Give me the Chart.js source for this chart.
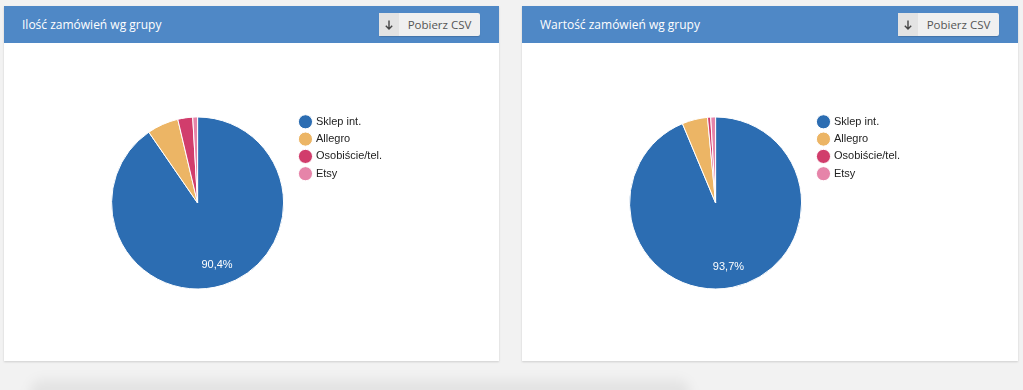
<!DOCTYPE html>
<html lang="pl">
<head>
  <meta charset="UTF-8" />
  <title>Zamówienia wg grupy</title>
  <script src="https://cdn.jsdelivr.net/npm/chart.js"></script>
  <style>
    html, body { margin: 0; padding: 0; }
    body {
      width: 1023px; height: 390px; overflow: hidden; position: relative;
      background: #f2f2f2; font-family: 'Open Sans', sans-serif;
    }
    .panel {
      position: absolute; top: 6px; height: 355px; background: #fff;
      box-shadow: 0 1px 2px rgba(0,0,0,0.15);
    }
    .panel-head {
      height: 37px; background: #4f88c6; color: #fff; position: relative;
    }
    .panel-head h3 {
      margin: 0; position: absolute; left: 18px; top: 10px;
      font-size: 12px; font-weight: 400; line-height: 18px;
    }
    .btn {
      position: absolute; right: 19px; top: 7px; height: 23px; width: 101px;
      background: #f0f0f0; border-radius: 2px; display: flex; font-size: 11.5px; color: #555;
      box-shadow: 0 1px 1px rgba(0,0,0,0.15);
    }
    .btn .ico { width: 20px; background: #e3e3e3; display: flex; align-items: center; justify-content: center; }
    .btn .txt { flex: 1; text-align: center; line-height: 23px; }
    .chart-box { position: absolute; top: 104px; width: 291px; height: 186px; }
    .shade {
      position: absolute; left: 30px; top: 380px; width: 660px; height: 30px;
      background: rgba(0,0,0,0.06); filter: blur(6px); border-radius: 12px;
    }
  </style>
</head>
<body>
  <div class="panel" style="left:4px; width:495px;">
    <div class="panel-head">
      <h3>Ilość zamówień wg grupy</h3>
      <div class="btn">
        <span class="ico"><svg width="8" height="10" viewBox="0 0 8 10"><path d="M4 0.5V9M0.8 5.8L4 9L7.2 5.8" stroke="#444" stroke-width="1.4" fill="none"/></svg></span>
        <span class="txt">Pobierz CSV</span>
      </div>
    </div>
    <div class="chart-box" style="left:97px;"><canvas id="wykresIlosc"></canvas></div>
  </div>

  <div class="panel" style="left:522px; width:496px;">
    <div class="panel-head">
      <h3>Wartość zamówień wg grupy</h3>
      <div class="btn">
        <span class="ico"><svg width="8" height="10" viewBox="0 0 8 10"><path d="M4 0.5V9M0.8 5.8L4 9L7.2 5.8" stroke="#444" stroke-width="1.4" fill="none"/></svg></span>
        <span class="txt">Pobierz CSV</span>
      </div>
    </div>
    <div class="chart-box" style="left:97px;"><canvas id="wykresWartosc"></canvas></div>
  </div>

  <div class="shade"></div>

  <script>
    // dane (procent udziału)
    const grupy = ["Sklep int.", "Allegro", "Osobiście/tel.", "Etsy"];
    const iloscZamowien = [90.4, 5.9, 2.8, 0.9];
    const wartoscZamowien = [93.7, 4.8, 0.6, 0.9];
    const kolory = ["#2c6db2", "#ecb565", "#d13d6c", "#e684a9"];

    // etykieta procentowa na dużych wycinkach
    const etykietyProcent = {
      id: "etykietyProcent",
      afterDatasetsDraw(chart) {
        const ctx = chart.ctx;
        const meta = chart.getDatasetMeta(0);
        const dane = chart.data.datasets[0].data;
        const suma = dane.reduce((a, b) => a + b, 0);
        ctx.save();
        ctx.font = "11px 'Liberation Sans', Arial, sans-serif";
        ctx.fillStyle = "#ffffff";
        ctx.textAlign = "center";
        ctx.textBaseline = "middle";
        meta.data.forEach((arc, i) => {
          const proc = dane[i] / suma * 100;
          if (proc < 20) return;
          const kat = (arc.startAngle + arc.endAngle) / 2;
          const r = arc.outerRadius * 0.76;
          const x = arc.x + Math.cos(kat) * r;
          const y = arc.y + Math.sin(kat) * r;
          ctx.fillText(proc.toFixed(1).replace(".", ",") + "%", x, y);
        });
        ctx.restore();
      },
    };

    function rysuj(id, wartosci) {
      new Chart(document.getElementById(id), {
        type: "pie",
        data: {
          labels: grupy,
          datasets: [{
            data: wartosci,
            backgroundColor: kolory,
            borderColor: "#ffffff",
            borderWidth: 1,
          }],
        },
        options: {
          responsive: true,
          maintainAspectRatio: false,
          animation: false,
          radius: 86,
          layout: { padding: 0 },
          plugins: {
            legend: {
              position: "right",
              align: "start",
              labels: {
                usePointStyle: true,
                pointStyle: "circle",
                boxWidth: 10,
                boxHeight: 10,
                padding: 6.3,
                color: "#222",
                font: { family: "'Liberation Sans', Arial, sans-serif", size: 11 },
              },
            },
            tooltip: { enabled: false },
          },
        },
        plugins: [etykietyProcent],
      });
    }

    rysuj("wykresIlosc", iloscZamowien);
    rysuj("wykresWartosc", wartoscZamowien);
  </script>
</body>
</html>
